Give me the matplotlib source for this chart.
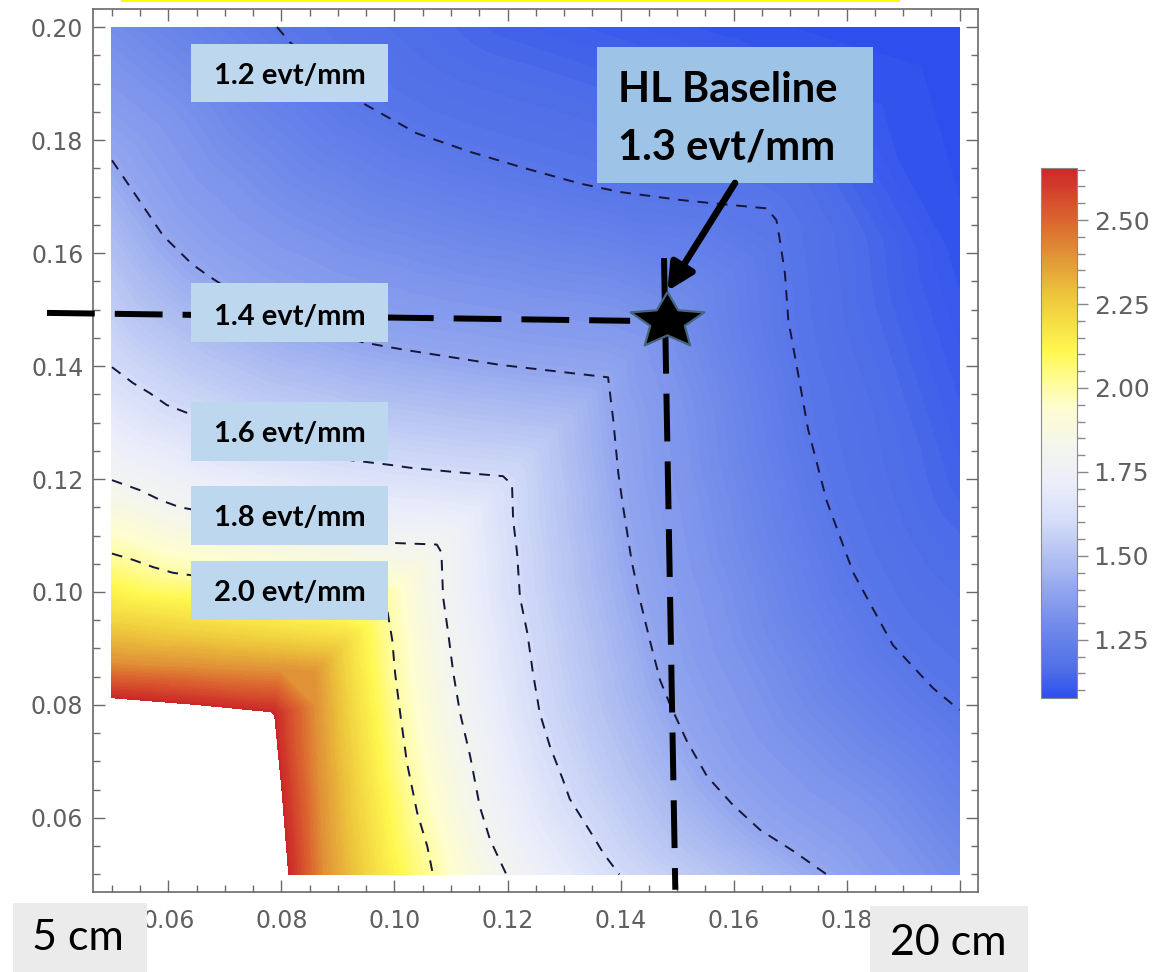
import numpy as np
import matplotlib
matplotlib.use("Agg")
import matplotlib.pyplot as plt
import matplotlib.tri as mtri
from matplotlib import cm
from matplotlib.colors import LinearSegmentedColormap, Normalize
from matplotlib.patches import Rectangle, FancyArrowPatch
from matplotlib.ticker import MultipleLocator, FixedLocator

# =====================================================
# Data (beta*_x, beta*_y in m)
# =====================================================

# dashed iso-density lines (evt/mm)
c12_x = [0.0792, 0.0815, 0.0939, 0.1039, 0.1134, 0.1231, 0.1328, 0.1399, 0.1505, 0.1564, 0.1659,
         0.1676, 0.1682, 0.1691, 0.1697, 0.1712, 0.1732, 0.1765, 0.1812, 0.1882, 0.1953, 0.2000]
c12_y = [0.2000, 0.1973, 0.1868, 0.1812, 0.1779, 0.1750, 0.1723, 0.1708, 0.1694, 0.1688, 0.1679,
         0.1658, 0.1623, 0.1564, 0.1481, 0.1399, 0.1288, 0.1161, 0.1034, 0.0906, 0.0830, 0.0791]

c14_x = [0.0500, 0.0532, 0.0591, 0.0642, 0.0673, 0.0744, 0.0833, 0.0944, 0.0987, 0.1022, 0.1187, 0.1378,
         0.1387, 0.1396, 0.1405, 0.1420, 0.1435, 0.1452, 0.1470, 0.1488, 0.1517, 0.1553, 0.1599, 0.1647,
         0.1705, 0.1765]
c14_y = [0.1764, 0.1717, 0.1630, 0.1580, 0.1558, 0.1512, 0.1473, 0.1442, 0.1434, 0.1428, 0.1402, 0.1380,
         0.1306, 0.1211, 0.1148, 0.1053, 0.0984, 0.0914, 0.0844, 0.0800, 0.0737, 0.0674, 0.0623, 0.0579,
         0.0542, 0.0500]

c16_x = [0.0500, 0.0537, 0.0567, 0.0597, 0.0633, 0.0727, 0.0916, 0.0951, 0.0992, 0.1027, 0.1068, 0.1110,
         0.1192, 0.1208, 0.1210, 0.1217, 0.1222, 0.1235, 0.1245, 0.1257, 0.1275, 0.1298, 0.1310, 0.1352,
         0.1370, 0.1398]
c16_y = [0.1398, 0.1370, 0.1352, 0.1331, 0.1317, 0.1275, 0.1234, 0.1230, 0.1225, 0.1220, 0.1216, 0.1212,
         0.1205, 0.1190, 0.1127, 0.1069, 0.0991, 0.0928, 0.0857, 0.0786, 0.0727, 0.0668, 0.0634, 0.0567,
         0.0537, 0.0500]

c18_x = [0.0500, 0.0550, 0.0585, 0.0620, 0.0709, 0.0786, 0.0857, 0.0928, 0.0992, 0.1075,
         0.1083, 0.1086, 0.1095, 0.1104, 0.1116, 0.1134, 0.1151, 0.1169, 0.1198]
c18_y = [0.1198, 0.1180, 0.1163, 0.1150, 0.1134, 0.1116, 0.1104, 0.1095, 0.1087, 0.1084,
         0.1070, 0.0991, 0.0928, 0.0857, 0.0786, 0.0709, 0.0620, 0.0562, 0.0500]

c20_x = [0.0500, 0.0537, 0.0573, 0.0608, 0.0698, 0.0786, 0.0857, 0.0915, 0.0985,
         0.0988, 0.0996, 0.1001, 0.1010, 0.1022, 0.1040, 0.1058, 0.1068]
c20_y = [0.1068, 0.1057, 0.1044, 0.1034, 0.1022, 0.1010, 0.1001, 0.0996, 0.0988,
         0.0963, 0.0915, 0.0857, 0.0786, 0.0698, 0.0610, 0.0550, 0.0500]

contour_lines = [(c12_x, c12_y, 1.2), (c14_x, c14_y, 1.4), (c16_x, c16_y, 1.6),
                 (c18_x, c18_y, 1.8), (c20_x, c20_y, 2.0)]

# colour bands read from the shading (no drawn line)
c22_x = [0.0500, 0.0650, 0.0800, 0.0912, 0.0918, 0.0930, 0.0945, 0.0962]
c22_y = [0.0962, 0.0945, 0.0930, 0.0918, 0.0912, 0.0800, 0.0650, 0.0500]
c24_x = [0.0500, 0.0650, 0.0800, 0.0852, 0.0856, 0.0860, 0.0868, 0.0875]
c24_y = [0.0875, 0.0868, 0.0860, 0.0856, 0.0852, 0.0800, 0.0650, 0.0500]
# edge of the blank (above-range) corner, red side
edge_x = [0.0500, 0.0650, 0.0783, 0.0788, 0.0801, 0.0813]
edge_y = [0.0813, 0.0801, 0.0788, 0.0783, 0.0650, 0.0500]
# inside the blank corner (values above the colour range)
inside_x = [0.0500, 0.0650, 0.0771, 0.0775, 0.0785, 0.0797, 0.0500, 0.0650, 0.0500, 0.0650]
inside_y = [0.0797, 0.0785, 0.0775, 0.0771, 0.0650, 0.0500, 0.0500, 0.0650, 0.0650, 0.0500]

# diagonal and border samples
diag_t = [0.1030, 0.1140, 0.1290, 0.1500, 0.1840, 0.2000]
diag_v = [1.90, 1.70, 1.50, 1.30, 1.10, 1.077]
rim_x = [0.0500, 0.1200, 0.1600, 0.2000, 0.2000, 0.2000]
rim_y = [0.2000, 0.2000, 0.2000, 0.1600, 0.1200, 0.0500]
rim_v = [1.30, 1.13, 1.09, 1.09, 1.13, 1.30]

# HL baseline point and guide lines
hl_x, hl_y = 0.1483, 0.1480
guide_h_x = [0.0385, 0.1417]
guide_h_y = [0.1494, 0.1480]
guide_v_x = [0.1477, 0.1497]
guide_v_y = [0.1591, 0.0473]

vmin, vmax = 1.077, 2.655
cbar_ticks = [1.25, 1.50, 1.75, 2.00, 2.25, 2.50]
tick_vals = [0.06, 0.08, 0.10, 0.12, 0.14, 0.16, 0.18, 0.20]

box_labels = ["1.2 evt/mm", "1.4 evt/mm", "1.6 evt/mm", "1.8 evt/mm", "2.0 evt/mm"]

# =====================================================
# Colour map (Mathematica-like temperature map)
# =====================================================

cmap_vals = [1.077, 1.16, 1.28, 1.39, 1.50, 1.61, 1.72, 1.83, 1.94, 2.02, 2.11, 2.27, 2.38, 2.49, 2.655]
cmap_cols = ['#2e4fed', '#4f6fe8', '#6e88ea', '#90a4ee', '#b4c2f2', '#d6def8', '#eceefa', '#f4f6ec',
             '#fdfdd0', '#fffc98', '#fff850', '#eec83c', '#e29a38', '#dc6a30', '#cc2828']
cmap = LinearSegmentedColormap.from_list(
    "temp", [((v - vmin) / (vmax - vmin), c) for v, c in zip(cmap_vals, cmap_cols)])
norm = Normalize(vmin, vmax)

# =====================================================
# Figure
# =====================================================

W, H = 1161, 972


def fx(px):
    return px / W


def fy(py):
    return 1 - py / H


fig = plt.figure(figsize=(W / 100, H / 100), dpi=100)
ax = fig.add_axes([fx(93), fy(892), (978 - 93) / W, (892 - 9) / H])

# field samples
xs, ys, zs = [], [], []
for cx, cy, lev in contour_lines:
    xs += cx; ys += cy; zs += [lev] * len(cx)
for cx, cy, lev in [(c22_x, c22_y, 2.2), (c24_x, c24_y, 2.4), (edge_x, edge_y, 2.65),
                    (inside_x, inside_y, 3.0)]:
    xs += cx; ys += cy; zs += [lev] * len(cx)
xs += diag_t; ys += diag_t; zs += diag_v
xs += rim_x; ys += rim_y; zs += rim_v

tri = mtri.Triangulation(np.array(xs), np.array(ys))
ax.tricontourf(tri, np.array(zs), levels=np.linspace(vmin, vmax, 160),
               cmap=cmap, norm=norm, antialiased=False, zorder=1)

for cx, cy, lev in contour_lines:
    ax.plot(cx, cy, color='#16163a', lw=1.4, ls=(0, (5.5, 4.5)), zorder=3)

# guide lines to the baseline point
ax.plot(guide_h_x, guide_h_y, color='black', lw=4.3, ls=(0, (8.0, 3.35)),
        dash_capstyle='butt', clip_on=False, zorder=4)
ax.plot(guide_v_x, guide_v_y, color='black', lw=4.3, ls=(0, (8.0, 3.35)),
        dash_capstyle='butt', clip_on=False, zorder=4)

# fat star marker
ang = np.deg2rad(90 + 36 * np.arange(11))
rad = np.where(np.arange(11) % 2 == 0, 1.0, 0.47)
star = np.column_stack([1.31 * rad * np.cos(ang), rad * np.sin(ang)])
ax.plot([hl_x], [hl_y], marker=star, ms=53, mfc='black', mec='#46647d', mew=1.6,
        ls='none', clip_on=False, zorder=6)

ax.set_xlim(0.04664, 0.20327)
ax.set_ylim(0.04690, 0.20319)
ax.xaxis.set_major_locator(FixedLocator(tick_vals))
ax.yaxis.set_major_locator(FixedLocator(tick_vals))
ax.xaxis.set_minor_locator(MultipleLocator(0.005))
ax.yaxis.set_minor_locator(MultipleLocator(0.005))
# the 0.20 label on x sits under the "20 cm" box
ax.set_xticklabels([f"{t:.2f}" if t < 0.19 else "" for t in tick_vals])
ax.set_yticklabels([f"{t:.2f}" for t in tick_vals])
ax.tick_params(which='both', direction='in', top=True, right=True, color='#6a6a6a', width=1)
ax.tick_params(which='major', length=8.6, labelsize=17, labelcolor='#606060')
ax.tick_params(which='minor', length=5)
ax.tick_params(axis='x', pad=12)
ax.tick_params(axis='y', pad=7)
for s in ax.spines.values():
    s.set_color('#6a6a6a')
    s.set_linewidth(1.2)

# colour bar
cax = fig.add_axes([fx(1041), fy(698), 36 / W, 530 / H])
cb = fig.colorbar(cm.ScalarMappable(norm=norm, cmap=cmap), cax=cax, ticks=cbar_ticks)
cb.ax.yaxis.set_minor_locator(MultipleLocator(0.05))
cb.ax.set_yticklabels([f"{t:.2f}" for t in cbar_ticks])
cb.ax.tick_params(which='major', length=8, width=1, color='#8a8a8a', labelsize=18,
                  labelcolor='#606060', pad=4)
cb.ax.tick_params(which='minor', length=6, width=1, color='#8a8a8a')
cb.outline.set_edgecolor('#8a8a8a')

# =====================================================
# Slide annotations
# =====================================================

bold = dict(family=['Lato', 'DejaVu Sans'], weight='bold', color='black')
box_rows = [(44, 102, 83.5), (283, 342, 325), (402, 461, 442), (486, 545, 526), (561, 620, 601)]
for text, (y0, y1, base) in zip(box_labels, box_rows):
    fig.add_artist(Rectangle((fx(191), fy(y1)), (388 - 191) / W, (y1 - y0) / H,
                             transform=fig.transFigure, facecolor='#bdd7ee', edgecolor='none', zorder=5))
    fig.text(fx(289.5), fy(base), text, ha='center', va='baseline', fontsize=21, zorder=6, **bold)

fig.add_artist(Rectangle((fx(597), fy(183)), (873 - 597) / W, (183 - 47) / H,
                         transform=fig.transFigure, facecolor='#9dc3e6', edgecolor='none', zorder=5))
fig.text(fx(618), fy(101.7), "HL Baseline", ha='left', va='baseline', fontsize=30, zorder=6, **bold)
fig.text(fx(618), fy(160), "1.3 evt/mm", ha='left', va='baseline', fontsize=30, zorder=6, **bold)

arrow = FancyArrowPatch((fx(735), fy(183)), (fx(667.3), fy(291)), transform=fig.transFigure,
                        arrowstyle='-|>,head_length=16,head_width=8', mutation_scale=1,
                        lw=4.8, color='black', shrinkA=0, shrinkB=0, zorder=7)
fig.add_artist(arrow)

reg = dict(family=['Lato', 'DejaVu Sans'], color='black')
fig.add_artist(Rectangle((fx(13), fy(972)), (147 - 13) / W, (972 - 903) / H,
                         transform=fig.transFigure, facecolor='#ebebeb', edgecolor='none', zorder=5))
fig.text(fx(78), fy(950), "5 cm", ha='center', va='baseline', fontsize=31, zorder=6, **reg)
fig.add_artist(Rectangle((fx(870), fy(972)), (1028 - 870) / W, (972 - 906) / H,
                         transform=fig.transFigure, facecolor='#ebebeb', edgecolor='none', zorder=5))
fig.text(fx(948), fy(955), "20 cm", ha='center', va='baseline', fontsize=31, zorder=6, **reg)

# yellow edge of a slide element at the very top
fig.add_artist(Rectangle((fx(121), fy(2.5)), (900 - 121) / W, 2.5 / H,
                         transform=fig.transFigure, facecolor='#ffff00', edgecolor='none', zorder=5))

fig.savefig("out.png", dpi=100)
